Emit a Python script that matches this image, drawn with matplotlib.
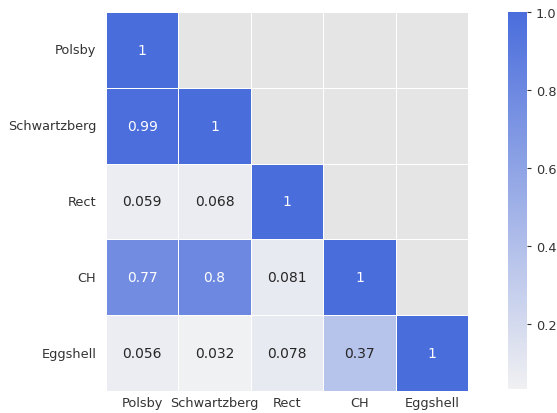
import matplotlib
matplotlib.use("Agg")
import matplotlib.pyplot as plt
import numpy as np
import pandas as pd
import seaborn as sns

names = ["Polsby", "Schwartzberg", "Rect", "CH", "Eggshell"]
polsby = [1, 0.99, 0.059, 0.77, 0.056]
schwartzberg = [0.99, 1, 0.068, 0.8, 0.032]
rect = [0.059, 0.068, 1, 0.081, 0.078]
ch = [0.77, 0.8, 0.081, 1, 0.37]
eggshell = [0.056, 0.032, 0.078, 0.37, 1]

corr = pd.DataFrame(
    {"Polsby": polsby, "Schwartzberg": schwartzberg, "Rect": rect,
     "CH": ch, "Eggshell": eggshell},
    index=names,
)
mask = np.triu(np.ones_like(corr, dtype=bool), k=1)

cmap = sns.light_palette("#4a6ddc", as_cmap=True)

fig = plt.figure(figsize=(5.57, 4.14), dpi=100)
ax = fig.add_axes([106 / 557, 22 / 414, 362 / 557, 379 / 414])
cax = fig.add_axes([508 / 557, 24 / 414, 19 / 557, 377 / 414])
ax.set_facecolor("#e5e5e5")

sns.heatmap(corr, mask=mask, annot=True, cmap=cmap, linewidths=0.5,
            linecolor="white", ax=ax, cbar_ax=cax,
            annot_kws={"fontsize": 10})

ax.tick_params(axis="both", length=0, colors="#333333", labelsize=9.3)
ax.tick_params(axis="y", rotation=0, pad=7)
ax.tick_params(axis="x", rotation=0, pad=3.5)
cax.tick_params(colors="#333333", labelsize=9.3, length=3)
for sp in cax.spines.values():
    sp.set_visible(False)

fig.savefig("out.png", dpi=100)
